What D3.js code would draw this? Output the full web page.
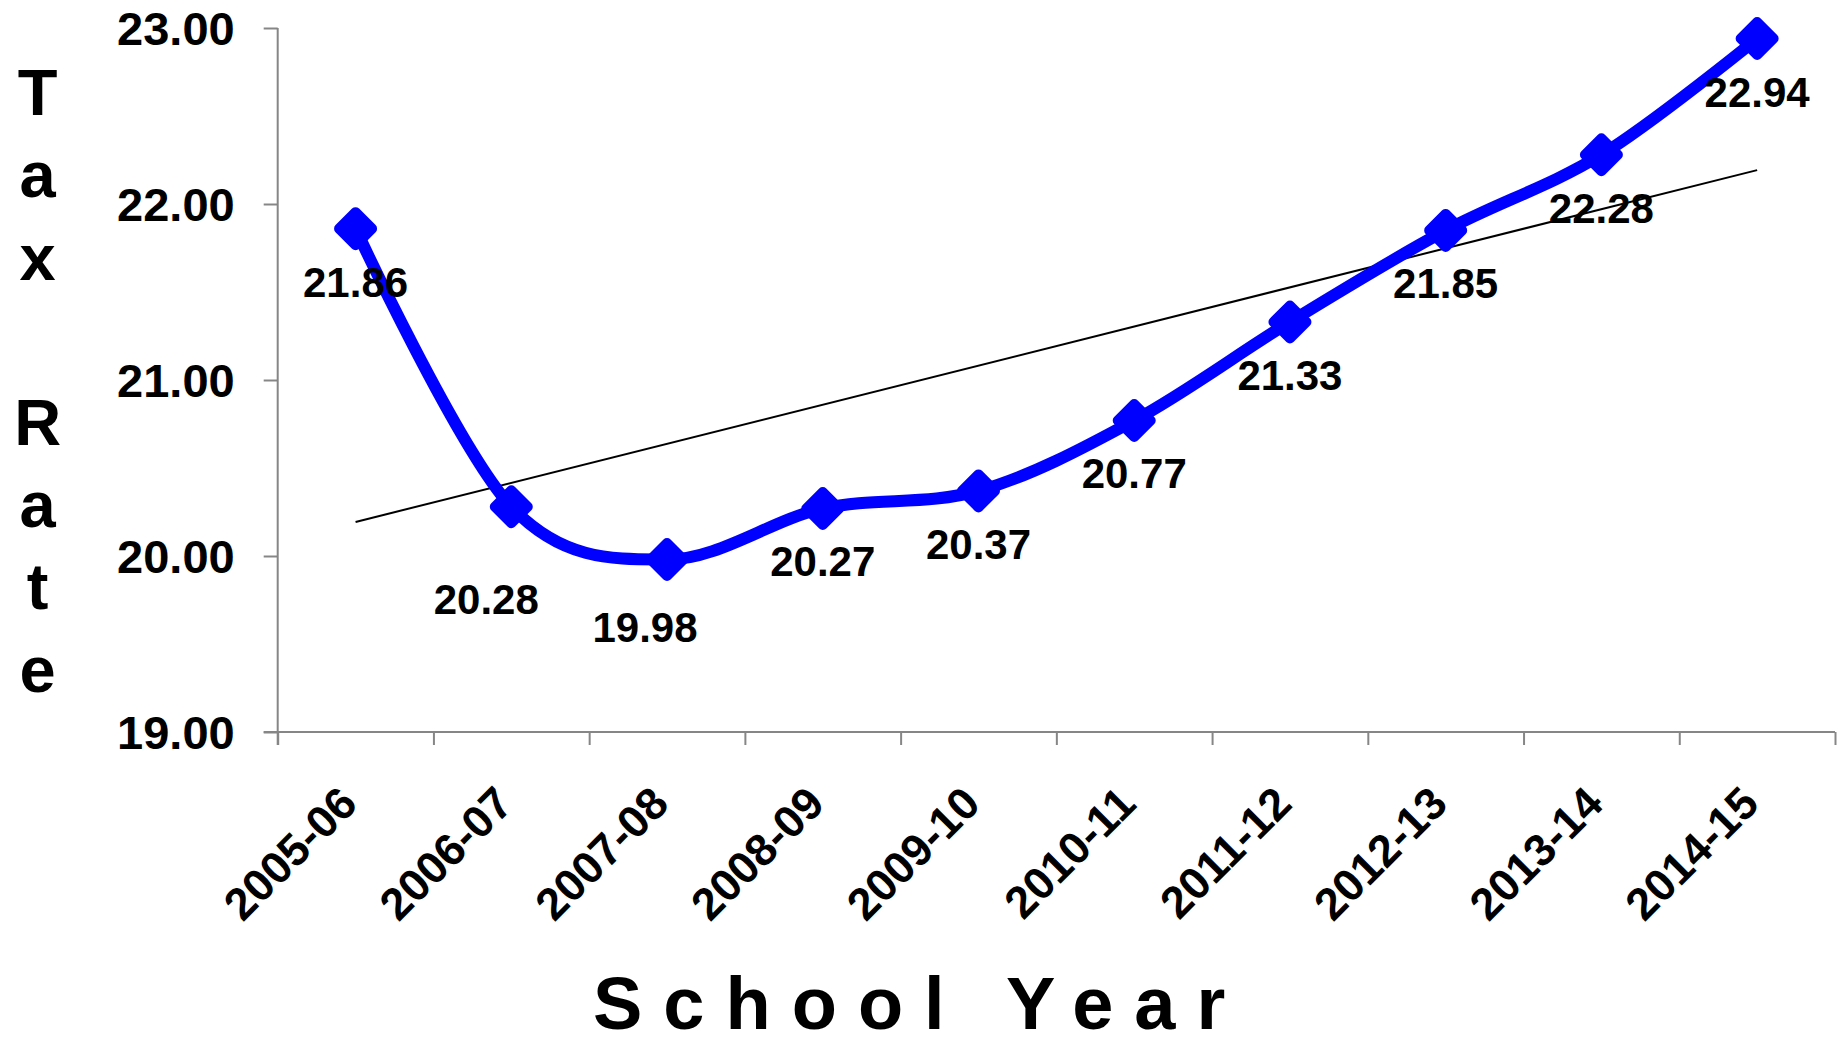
<!DOCTYPE html>
<html>
<head>
<meta charset="utf-8">
<script src="https://cdn.jsdelivr.net/npm/d3@7"></script>
<style>
  body { margin: 0; background: #fff; }
  text { font-family: "Liberation Sans", Arial, sans-serif; font-weight: bold; fill: #000; }
</style>
</head>
<body>
<svg id="tax_chart" width="1843" height="1038"></svg>
<script>
// data
const years = ["2005-06", "2006-07", "2007-08", "2008-09", "2009-10",
               "2010-11", "2011-12", "2012-13", "2013-14", "2014-15"];
const taxRate = [21.86, 20.28, 19.98, 20.27, 20.37, 20.77, 21.33, 21.85, 22.28, 22.94];
const yTicks = [19, 20, 21, 22, 23];
const yTitle = "Tax Rate";
const xTitle = "School Year";

// label nudges (px) where the labels were moved by hand
const labelShift = [[0, 0], [-25, 39], [-22, 14], [0, 0], [0, 0],
                    [0, 0], [0, 0], [0, 0], [0, 0], [0, 0]];

const svg = d3.select("svg#tax_chart");

//chart plot area
const area = { left: 277.7, right: 1835, top: 28, bottom: 732 };

const x = d3.scaleBand().domain(years).range([area.left, area.right]).padding(0);
const xEdge = d3.scaleLinear().domain([0, years.length]).range([area.left, area.right]);
const y = d3.scaleLinear().domain([19, 23]).range([area.bottom, area.top]);
const cx = d => x(d) + x.bandwidth() / 2;

// y axis
const yAxis = svg.append("g")
  .attr("transform", `translate(${area.left},0)`)
  .call(d3.axisLeft(y).tickValues(yTicks).tickFormat(d3.format(".2f"))
    .tickSize(14).tickPadding(29).tickSizeOuter(0));
yAxis.select(".domain").remove();
yAxis.append("line").attr("x1", 0).attr("x2", 0).attr("y1", area.top).attr("y2", area.bottom + 13);
yAxis.selectAll("line").attr("stroke", "#868686").attr("stroke-width", 2);
yAxis.selectAll("text").attr("font-size", 47).attr("dy", "0.35em");

// x axis: tick marks at category edges
const xAxis = svg.append("g")
  .attr("transform", `translate(0,${area.bottom})`)
  .call(d3.axisBottom(xEdge).ticks(years.length).tickFormat("").tickSize(13).tickSizeOuter(0));
xAxis.select(".domain").remove();
xAxis.append("line").attr("x1", area.left - 14).attr("x2", area.right).attr("y1", 0).attr("y2", 0);
xAxis.selectAll("line").attr("stroke", "#868686").attr("stroke-width", 2);

svg.append("g")
  .selectAll("text")
  .data(years)
  .enter()
  .append("text")
  .attr("transform", d => `translate(${cx(d) + 4},${area.bottom + 74}) rotate(-45)`)
  .attr("text-anchor", "end")
  .attr("font-size", 45)
  .text(d => d);

// trend line (least squares)
const idx = taxRate.map((v, i) => i);
const mx = d3.mean(idx), my = d3.mean(taxRate);
const slope = d3.sum(idx, i => (i - mx) * (taxRate[i] - my)) / d3.sum(idx, i => (i - mx) ** 2);
const icpt = my - slope * mx;
svg.append("line")
  .attr("x1", cx(years[0])).attr("y1", y(icpt))
  .attr("x2", cx(years[years.length - 1])).attr("y2", y(icpt + slope * (years.length - 1)))
  .attr("stroke", "#000").attr("stroke-width", 2);

// smoothed series line
const line = d3.line()
  .x((d, i) => cx(years[i]))
  .y(d => y(d))
  .curve(d3.curveCardinal.tension(0));
svg.append("path")
  .datum(taxRate)
  .attr("d", line)
  .attr("fill", "none")
  .attr("stroke", "#0000ff")
  .attr("stroke-width", 12);

// diamond markers
const r = 16.5;
svg.append("g")
  .selectAll("path")
  .data(taxRate)
  .enter()
  .append("path")
  .attr("transform", (d, i) => `translate(${cx(years[i])},${y(d)})`)
  .attr("d", `M0,${-r}L${r},0L0,${r}L${-r},0Z`)
  .attr("fill", "#0000ff")
  .attr("stroke", "#0000ff")
  .attr("stroke-width", 10)
  .attr("stroke-linejoin", "round");

// data labels
svg.append("g")
  .selectAll("text")
  .data(taxRate)
  .enter()
  .append("text")
  .attr("x", (d, i) => cx(years[i]) + labelShift[i][0])
  .attr("y", (d, i) => y(d) + 68 + labelShift[i][1])
  .attr("text-anchor", "middle")
  .attr("font-size", 42)
  .text(d => d.toFixed(2));

// axis titles
svg.append("text")
  .selectAll("tspan")
  .data(yTitle.split(""))
  .enter()
  .append("tspan")
  .attr("x", 37.7)
  .attr("y", (d, i) => 115 + i * 82.4)
  .attr("text-anchor", "middle")
  .attr("font-size", 65)
  .text(d => d === " " ? "\u00a0" : d);

svg.append("text")
  .attr("x", 593)
  .attr("y", 1029)
  .attr("font-size", 74)
  .attr("letter-spacing", 21)
  .text(xTitle);
</script>
</body>
</html>
